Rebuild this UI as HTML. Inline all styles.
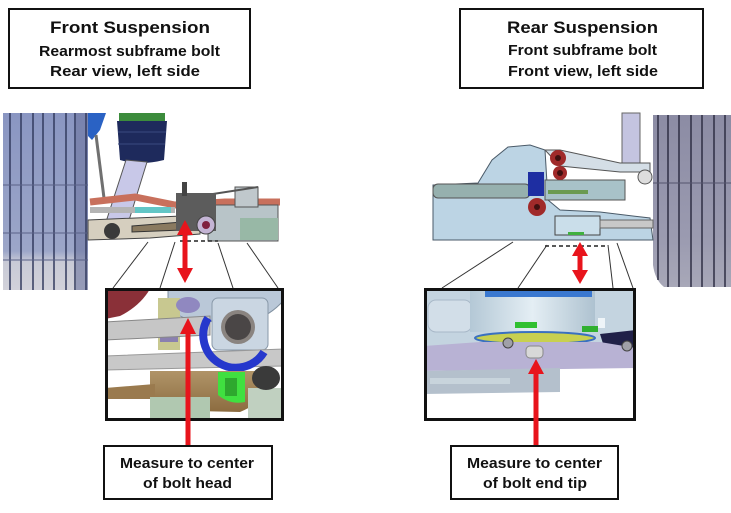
<!DOCTYPE html>
<html><head><meta charset="utf-8"><style>
html,body{margin:0;padding:0;background:#fff;}
svg{display:block;}
text{font-family:"Liberation Sans",Arial,sans-serif;font-weight:bold;fill:#111;}
</style></head><body>
<svg width="731" height="513" viewBox="0 0 731 513" xmlns="http://www.w3.org/2000/svg">
<defs>
<linearGradient id="wl" x1="0" y1="0" x2="0" y2="1">
<stop offset="0" stop-color="#8a96c2"/><stop offset="0.78" stop-color="#9ca6c8"/><stop offset="0.84" stop-color="#c8cad6"/><stop offset="1" stop-color="#d2d2da"/>
</linearGradient>
<linearGradient id="wr" x1="0" y1="0" x2="0" y2="1">
<stop offset="0" stop-color="#8c8ca4"/><stop offset="0.7" stop-color="#9a9ab0"/><stop offset="1" stop-color="#a8a8b8"/>
</linearGradient>
<linearGradient id="cyl" x1="0" y1="0" x2="1" y2="0">
<stop offset="0" stop-color="#b4c8d6"/><stop offset="0.5" stop-color="#e4eef4"/><stop offset="1" stop-color="#aec2d0"/>
</linearGradient>
<linearGradient id="tan" x1="0" y1="0" x2="0" y2="1">
<stop offset="0" stop-color="#b09468"/><stop offset="1" stop-color="#8c6c40"/>
</linearGradient>
<clipPath id="c1"><rect x="105" y="288" width="179" height="133"/></clipPath>
<clipPath id="c2"><rect x="424" y="288" width="212" height="133"/></clipPath>
</defs>

<!-- Header boxes -->
<rect x="9" y="9" width="241" height="79" fill="#fff" stroke="#111" stroke-width="2"/>
<text x="50" y="33" font-size="17" textLength="160" lengthAdjust="spacingAndGlyphs">Front Suspension</text>
<text x="39" y="56" font-size="15" textLength="181" lengthAdjust="spacingAndGlyphs">Rearmost subframe bolt</text>
<text x="50" y="76" font-size="15" textLength="150" lengthAdjust="spacingAndGlyphs">Rear view, left side</text>

<rect x="460" y="9" width="243" height="79" fill="#fff" stroke="#111" stroke-width="2"/>
<text x="507" y="33" font-size="17" textLength="151" lengthAdjust="spacingAndGlyphs">Rear Suspension</text>
<text x="508" y="55" font-size="15" textLength="149" lengthAdjust="spacingAndGlyphs">Front subframe bolt</text>
<text x="508" y="76" font-size="15" textLength="150" lengthAdjust="spacingAndGlyphs">Front view, left side</text>

<!-- LEFT SCENE -->
<rect x="3" y="113" width="85" height="177" fill="url(#wl)"/>
<rect x="76" y="113" width="12" height="177" fill="#6e76a0" opacity="0.6"/>
<g stroke="#323a5e" stroke-width="1.5">
<line x1="10" y1="113" x2="10" y2="290"/><line x1="21" y1="113" x2="21" y2="290"/>
<line x1="33" y1="113" x2="33" y2="290"/><line x1="43" y1="113" x2="43" y2="290"/>
<line x1="54" y1="113" x2="54" y2="290"/><line x1="66" y1="113" x2="66" y2="290"/>
<line x1="75" y1="113" x2="75" y2="290"/><line x1="86" y1="113" x2="86" y2="290"/>
</g>
<g stroke="#5a6288" stroke-width="1"><line x1="3" y1="185" x2="88" y2="185"/><line x1="3" y1="233" x2="88" y2="233"/><line x1="3" y1="260" x2="88" y2="260"/></g>
<polygon points="88,113 106,113 100,130 92,140 88,136" fill="#2a62c4"/>
<line x1="96" y1="135" x2="104" y2="198" stroke="#707070" stroke-width="3"/>
<!-- air spring -->
<rect x="119" y="113" width="46" height="9" fill="#3c8c3c"/>
<path d="M117,121 L167,121 L164,160 Q140,166 120,160 Z" fill="#1e2a5c"/>
<g stroke="#3a4a80" stroke-width="1"><line x1="118" y1="132" x2="166" y2="132"/><line x1="118" y1="144" x2="165" y2="144"/></g>
<!-- strut -->
<polygon points="126,160 147,162 126,230 104,228" fill="#c8c8e8" stroke="#555" stroke-width="1"/>
<!-- red tie rod -->
<polyline points="90,202 135,197 175,205 225,202 280,202" fill="none" stroke="#c8705c" stroke-width="7"/>
<rect x="90" y="207" width="85" height="6" fill="#b4b4b4"/>
<rect x="135" y="207" width="36" height="6" fill="#62c6c6"/>
<!-- lower arm -->
<polygon points="88,220 182,216 200,218 200,234 150,238 88,240" fill="#d6cfbf" stroke="#444" stroke-width="1"/>
<path d="M132,226 L182,222 L182,230 L132,232 Z" fill="#8a7a60" stroke="#333" stroke-width="1"/>
<circle cx="112" cy="231" r="8" fill="#3a3a3a"/>
<!-- subframe block -->
<rect x="208" y="205" width="70" height="36" fill="#b8c4c8" stroke="#555" stroke-width="1"/>
<rect x="240" y="218" width="38" height="22" fill="#98b8a6"/>
<rect x="235" y="187" width="23" height="20" fill="#c0c8cc" stroke="#555" stroke-width="1"/>
<line x1="200" y1="196" x2="258" y2="187" stroke="#555" stroke-width="2"/>
<!-- knuckle -->
<rect x="176" y="193" width="40" height="38" fill="#5c5c5c"/>
<rect x="182" y="182" width="5" height="14" fill="#444"/>
<circle cx="206" cy="225" r="9" fill="#c4b4d4" stroke="#444" stroke-width="1"/>
<circle cx="206" cy="225" r="4" fill="#802040"/>
<line x1="180" y1="241" x2="218" y2="241" stroke="#222" stroke-width="1.5" stroke-dasharray="4,3"/>
<!-- connectors -->
<g stroke="#333" stroke-width="1">
<line x1="113" y1="288" x2="148" y2="242"/><line x1="160" y1="288" x2="175" y2="242"/>
<line x1="233" y1="288" x2="218" y2="243"/><line x1="278" y1="288" x2="247" y2="243"/>
</g>
<!-- double arrow -->
<line x1="185" y1="232" x2="185" y2="272" stroke="#e8141c" stroke-width="5"/>
<polygon points="185,220 177,235 193,235" fill="#e8141c"/>
<polygon points="185,283 177,268 193,268" fill="#e8141c"/>

<!-- RIGHT SCENE -->
<path d="M653,115 L731,115 L731,287 L664,287 Q655,280 653,265 Z" fill="url(#wr)"/>
<g stroke="#2e2e44" stroke-width="1.5">
<line x1="658" y1="115" x2="658" y2="280"/><line x1="668" y1="115" x2="668" y2="287"/>
<line x1="679" y1="115" x2="679" y2="287"/><line x1="691" y1="115" x2="691" y2="287"/>
<line x1="702" y1="115" x2="702" y2="287"/><line x1="714" y1="115" x2="714" y2="287"/>
<line x1="725" y1="115" x2="725" y2="287"/>
</g>
<line x1="653" y1="183" x2="731" y2="183" stroke="#55556e" stroke-width="1"/>
<rect x="622" y="113" width="18" height="50" fill="#c4c4e0" stroke="#666" stroke-width="1"/>
<polygon points="433,185 478,183 492,160 508,147 530,145 545,150 548,200 560,210 600,212 650,218 653,240 433,240" fill="#bcd4e4" stroke="#4a5a68" stroke-width="1"/>
<polygon points="545,150 560,150 620,163 650,163 650,172 620,172 560,166" fill="#d4dee6" stroke="#555" stroke-width="1"/>
<rect x="433" y="184" width="97" height="14" rx="5" fill="#96b0ae" stroke="#555" stroke-width="1"/>
<rect x="545" y="180" width="80" height="20" fill="#a8c2c8" stroke="#555" stroke-width="1"/>
<rect x="548" y="190" width="40" height="4" fill="#6a9a50"/>
<rect x="528" y="172" width="16" height="24" fill="#1e2ea2"/>
<circle cx="558" cy="158" r="8" fill="#a02a2a"/><circle cx="558" cy="158" r="3" fill="#401010"/>
<circle cx="560" cy="173" r="7" fill="#a02a2a"/><circle cx="560" cy="173" r="3" fill="#401010"/>
<circle cx="537" cy="207" r="9" fill="#a02a2a"/><circle cx="537" cy="207" r="3" fill="#401010"/>
<rect x="555" y="216" width="45" height="19" fill="#cadeea" stroke="#444" stroke-width="1"/>
<rect x="568" y="232" width="16" height="3" fill="#40b040"/>
<rect x="600" y="220" width="53" height="8" fill="#c8c8c8" stroke="#666" stroke-width="1"/>
<circle cx="645" cy="177" r="7" fill="#ddd" stroke="#555" stroke-width="1"/>
<line x1="545" y1="246" x2="608" y2="246" stroke="#222" stroke-width="1.5" stroke-dasharray="4,3"/>
<g stroke="#333" stroke-width="1">
<line x1="442" y1="288" x2="513" y2="242"/><line x1="518" y1="288" x2="547" y2="245"/>
<line x1="613" y1="288" x2="608" y2="245"/><line x1="633" y1="288" x2="617" y2="243"/>
</g>
<line x1="580" y1="254" x2="580" y2="272" stroke="#e8141c" stroke-width="5"/>
<polygon points="580,242 572,256 588,256" fill="#e8141c"/>
<polygon points="580,284 572,270 588,270" fill="#e8141c"/>

<!-- LEFT INSET -->
<g clip-path="url(#c1)">
<rect x="105" y="288" width="179" height="133" fill="#fff"/>
<path d="M105,289 L150,289 Q140,306 120,316 L105,319 Z" fill="#8a3038"/>
<path d="M168,289 L284,289 L284,300 Q268,318 250,320 L200,322 Q175,318 168,305 Z" fill="#bac8d8" stroke="#8090a0" stroke-width="1"/>
<rect x="158" y="298" width="22" height="52" fill="#c8c890"/>
<rect x="160" y="330" width="18" height="12" fill="#8a80b0"/>
<ellipse cx="188" cy="305" rx="12" ry="8" fill="#9088c0"/>
<polygon points="105,322 210,316 210,335 105,340" fill="#c6c6c6" stroke="#888" stroke-width="1"/>
<rect x="212" y="298" width="56" height="52" rx="6" fill="#cad6e2" stroke="#8898a8" stroke-width="1"/>
<polygon points="105,356 284,349 284,366 105,370" fill="#c8c8c8" stroke="#999" stroke-width="1"/>
<path d="M208,318 A32,32 0 0 0 264,352" fill="none" stroke="#2638cc" stroke-width="8"/>
<circle cx="238" cy="327" r="17" fill="#8a8480"/>
<circle cx="238" cy="327" r="13" fill="#4a4646"/>
<path d="M150,371 L272,371 Q270,400 240,412 L150,410 Z" fill="url(#tan)"/>
<polygon points="105,388 155,384 155,399 105,399" fill="#9a7a4e"/>
<rect x="150" y="397" width="60" height="24" fill="#b0c8b0"/>
<rect x="248" y="388" width="36" height="33" fill="#c0d0c0"/>
<path d="M218,372 L245,372 L245,402 Q230,405 218,395 Z" fill="#40e040"/>
<rect x="225" y="378" width="12" height="18" fill="#2ea82e"/>
<ellipse cx="266" cy="378" rx="14" ry="12" fill="#3a3a3a"/>
</g>
<rect x="106.5" y="289.5" width="176" height="130" fill="none" stroke="#111" stroke-width="3"/>
<line x1="188" y1="330" x2="188" y2="445" stroke="#e8141c" stroke-width="5"/>
<polygon points="188,318 180,334 196,334" fill="#e8141c"/>

<!-- RIGHT INSET -->
<g clip-path="url(#c2)">
<rect x="424" y="288" width="212" height="133" fill="#fff"/>
<rect x="424" y="288" width="212" height="58" fill="#c4d4e0"/>
<rect x="428" y="300" width="44" height="32" rx="8" fill="#d2dee8" stroke="#a8b8c8" stroke-width="1"/>
<rect x="470" y="288" width="125" height="44" fill="url(#cyl)"/>
<rect x="485" y="288" width="107" height="9" fill="#3a78d0"/>
<rect x="515" y="322" width="22" height="6" fill="#30c030"/>
<rect x="582" y="326" width="16" height="6" fill="#30b030"/>
<rect x="598" y="318" width="7" height="10" fill="#eef4f8"/>
<ellipse cx="535" cy="338" rx="60" ry="6" fill="#c8d050" stroke="#3a70c0" stroke-width="2"/>
<path d="M600,334 L636,330 L636,352 L605,350 Z" fill="#202048"/>
<polygon points="424,346 480,342 600,342 636,348 636,368 424,371" fill="#b8b2d4"/>
<polygon points="424,371 560,368 560,392 424,394" fill="#b4c0cc"/>
<rect x="430" y="378" width="80" height="6" fill="#c8d4dc"/>
<circle cx="508" cy="343" r="5" fill="#a0a0a8" stroke="#444" stroke-width="1"/>
<circle cx="627" cy="346" r="5" fill="#a0a0a8" stroke="#444" stroke-width="1"/>
<rect x="526" y="346" width="17" height="12" rx="4" fill="#d8d8d8" stroke="#888" stroke-width="1"/>
</g>
<rect x="425.5" y="289.5" width="209" height="130" fill="none" stroke="#111" stroke-width="3"/>
<line x1="536" y1="372" x2="536" y2="445" stroke="#e8141c" stroke-width="5"/>
<polygon points="536,359 528,374 544,374" fill="#e8141c"/>

<!-- Bottom labels -->
<rect x="104" y="446" width="168" height="53" fill="#fff" stroke="#111" stroke-width="2"/>
<text x="120" y="468" font-size="15" textLength="134" lengthAdjust="spacingAndGlyphs">Measure to center</text>
<text x="143" y="488" font-size="15" textLength="89" lengthAdjust="spacingAndGlyphs">of bolt head</text>

<rect x="451" y="446" width="167" height="53" fill="#fff" stroke="#111" stroke-width="2"/>
<text x="467" y="468" font-size="15" textLength="135" lengthAdjust="spacingAndGlyphs">Measure to center</text>
<text x="483" y="488" font-size="15" textLength="104" lengthAdjust="spacingAndGlyphs">of bolt end tip</text>
</svg>
</body></html>
